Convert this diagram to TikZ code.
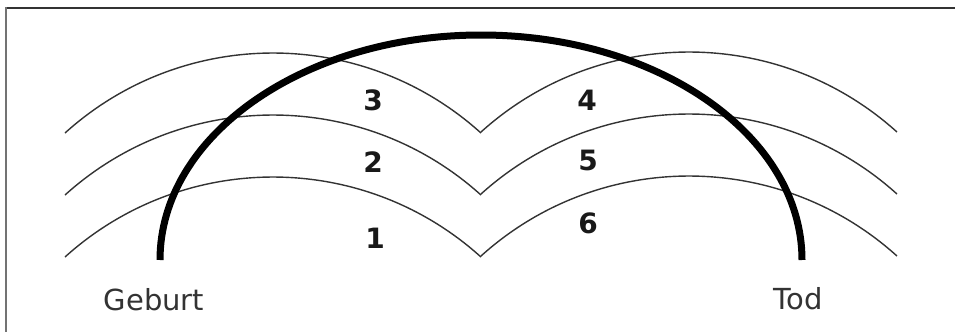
\documentclass[tikz,border=0pt]{standalone}
\usepackage{fontspec}
\setmainfont{DejaVu Sans}
\begin{document}
\begin{tikzpicture}[x=1pt,y=-1pt,
  thinarc/.style={draw=black!80,line width=1.4pt},
  lifearc/.style={draw=black,line width=7pt},
  numlabel/.style={anchor=base,inner sep=0pt,font=\fontsize{28}{28}\selectfont\bfseries,text=black!90},
  endlabel/.style={anchor=base,inner sep=0pt,font=\fontsize{29}{29}\selectfont,text=black!80}]
\useasboundingbox (0,0) rectangle (955,332);
\fill[white] (0,0) rectangle (955,332);
% frame
\draw[black!80,line width=2pt] (5,8) -- (955,8);
\draw[black!55,line width=2.5pt] (6,7) -- (6,332);
% thin arcs
\foreach \dy in {0,62,124}{
  \draw[thinarc] (65,133+\dy) arc[start angle=-132.07,end angle=-47.93,radius=310.4];
  \draw[thinarc] (481,132+\dy) arc[start angle=-132.07,end angle=-47.93,radius=310.4];
}
% thick life arc
\draw[lifearc] (160,260) arc[start angle=180,end angle=360,x radius=321,y radius=225];
% labels
\node[numlabel] (n3) at (373,110) {3};
\node[numlabel] (n2) at (373,172) {2};
\node[numlabel] (n1) at (375,248) {1};
\node[numlabel] (n4) at (587,110) {4};
\node[numlabel] (n5) at (588,170) {5};
\node[numlabel] (n6) at (588,233) {6};
\node[endlabel] (geburt) at (154,310) {Geburt};
\node[endlabel] (tod) at (798,309) {Tod};
\end{tikzpicture}
\end{document}
